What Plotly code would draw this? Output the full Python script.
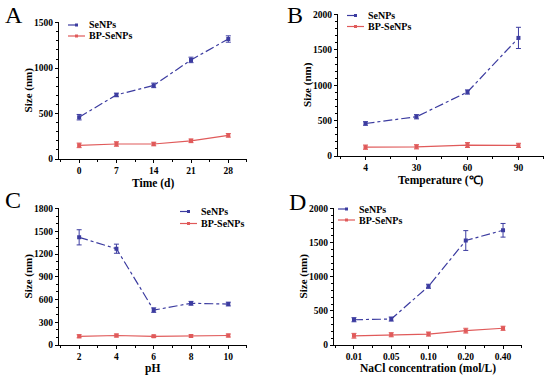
import plotly.graph_objects as go

# ---- data ----
time_labels = ["0", "7", "14", "21", "28"]
time_se = [460, 705, 810, 1090, 1320]
time_se_err = [30, 20, 25, 30, 35]
time_bp = [150, 165, 165, 200, 260]
time_bp_err = [25, 25, 20, 20, 20]

temp_labels = ["4", "30", "60", "90"]
temp_se = [460, 555, 905, 1670]
temp_se_err = [25, 30, 30, 150]
temp_bp = [125, 130, 155, 150]
temp_bp_err = [30, 30, 35, 30]

ph_labels = ["2", "4", "6", "8", "10"]
ph_se = [1420, 1270, 460, 550, 540]
ph_se_err = [100, 60, 30, 25, 25]
ph_bp = [115, 125, 115, 120, 125]
ph_bp_err = [20, 20, 15, 15, 20]

nacl_labels = ["0.01", "0.05", "0.10", "0.20", "0.40"]
nacl_se = [370, 380, 860, 1530, 1680]
nacl_se_err = [30, 30, 30, 145, 100]
nacl_bp = [135, 150, 160, 210, 245]
nacl_bp_err = [35, 30, 30, 35, 30]

series_names = ["SeNPs", "BP-SeNPs"]
y_title = "Size (nm)"

BLUE = "#3c3ca0"
RED = "#e05a5a"
FONT = "Liberation Serif"
W, H = 550, 375

panels = [
    dict(labels=time_labels, se=time_se, see=time_se_err, bp=time_bp, bpe=time_bp_err,
         xt="Time (d)", yr=[0, 1510], dt=500, xd=[0.1073, 0.449], yd=[0.576, 0.942],
         leg=(68, 25, 11), xty=183, ytx=28),
    dict(labels=temp_labels, se=temp_se, see=temp_se_err, bp=temp_bp, bpe=temp_bp_err,
         xt="Temperature (\u2103)", yr=[0, 2010], dt=500, xd=[0.6145, 0.989], yd=[0.584, 0.963],
         leg=(347, 15.5, 11), xty=180, ytx=308),
    dict(labels=ph_labels, se=ph_se, see=ph_se_err, bp=ph_bp, bpe=ph_bp_err,
         xt="pH", yr=[0, 1810], dt=300, xd=[0.1073, 0.449], yd=[0.08, 0.446],
         leg=(180, 211.5, 12), xty=368, ytx=28),
    dict(labels=nacl_labels, se=nacl_se, see=nacl_se_err, bp=nacl_bp, bpe=nacl_bp_err,
         xt="NaCl concentration (mol/L)", yr=[0, 2010], dt=500, xd=[0.607, 0.9485], yd=[0.08, 0.446],
         leg=(338, 209, 11), xty=368, ytx=303),
]

fig = go.Figure()
layout = dict(
    width=W, height=H, margin=dict(l=0, r=0, t=0, b=0, autoexpand=False),
    paper_bgcolor="white", plot_bgcolor="white", showlegend=False,
    font=dict(family=FONT, color="black"),
)
shapes, annots = [], []

for i, p in enumerate(panels):
    n = "" if i == 0 else str(i + 1)
    xa, ya = "x" + n, "y" + n
    fig.add_trace(go.Scatter(
        x=list(range(len(p["labels"]))), y=p["se"], xaxis=xa, yaxis=ya,
        mode="lines+markers", name=series_names[0],
        line=dict(color=BLUE, width=1.2, dash="dashdot"),
        marker=dict(color=BLUE, size=4, symbol="square"),
        error_y=dict(type="data", array=p["see"], color=BLUE, thickness=1, width=2.5),
    ))
    fig.add_trace(go.Scatter(
        x=list(range(len(p["labels"]))), y=p["bp"], xaxis=xa, yaxis=ya,
        mode="lines+markers", name=series_names[1],
        line=dict(color=RED, width=1.2),
        marker=dict(color=RED, size=4, symbol="square"),
        error_y=dict(type="data", array=p["bpe"], color=RED, thickness=1, width=2.5),
    ))
    layout["xaxis" + n] = dict(
        domain=p["xd"], anchor=ya, range=[-0.54, len(p["labels"]) - 0.5], automargin=False,
        tickmode="array", tickvals=list(range(len(p["labels"]))), ticktext=p["labels"],
        showgrid=False, zeroline=False, showline=True, linecolor="black", linewidth=1,
        ticks="outside", ticklen=3, tickwidth=1, tickcolor="black",
        minor=dict(ticks="outside", ticklen=2, tickcolor="black", tickmode="linear", dtick=0.5, tick0=0.5),
        tickfont=dict(family=FONT, size=9.5, weight="bold"),
    )
    layout["yaxis" + n] = dict(
        domain=p["yd"], anchor=xa, range=p["yr"], dtick=p["dt"], tick0=0, automargin=False,
        showgrid=False, zeroline=False, showline=True, linecolor="black", linewidth=1,
        ticks="outside", ticklen=3, tickwidth=1, tickcolor="black",
        minor=dict(ticks="outside", ticklen=2, tickcolor="black"),
        tickfont=dict(family=FONT, size=9.5, weight="bold"),
    )
    # axis titles as annotations (precise placement)
    xc = (p["xd"][0] + p["xd"][1]) / 2
    annots.append(dict(text=p["xt"], x=xc, y=1 - p["xty"] / H, xref="paper", yref="paper",
                       showarrow=False, xanchor="center", yanchor="middle",
                       font=dict(family=FONT, size=11.5, weight="bold", color="black")))
    yc = (p["yd"][0] + p["yd"][1]) / 2
    annots.append(dict(text=y_title, x=p["ytx"] / W, y=yc, xref="paper", yref="paper",
                       showarrow=False, xanchor="center", yanchor="middle", textangle=-90,
                       font=dict(family=FONT, size=11, weight="bold", color="black")))
    # compact legend (layout only)
    lx, ly, gap = p["leg"]
    for k, (name, col, dash) in enumerate([(series_names[0], BLUE, "dash"), (series_names[1], RED, "solid")]):
        yy = 1 - (ly + k * gap) / H
        shapes.append(dict(type="line", xref="paper", yref="paper",
                           x0=lx / W, x1=(lx + 17) / W, y0=yy, y1=yy,
                           line=dict(color=col, width=1.2, dash=dash)))
        shapes.append(dict(type="rect", xref="paper", yref="paper",
                           x0=(lx + 7) / W, x1=(lx + 10) / W, y0=yy - 1.5 / H, y1=yy + 1.5 / H,
                           line=dict(width=0), fillcolor=col))
        annots.append(dict(text=name, x=(lx + 19) / W, y=yy, xref="paper", yref="paper",
                           showarrow=False, xanchor="left", yanchor="middle",
                           font=dict(family=FONT, size=10, weight="bold", color="black")))

for txt, x, y in [("A", 14, 15), ("B", 295, 15), ("C", 13, 200), ("D", 297, 202)]:
    annots.append(dict(text=txt, x=x / W, y=1 - y / H, xref="paper", yref="paper",
                       showarrow=False, xanchor="center", yanchor="middle",
                       font=dict(family=FONT, size=24, color="black")))

layout["shapes"] = shapes
layout["annotations"] = annots
fig.update_layout(**layout)

fig.write_html("out.html", config={"displayModeBar": False},
               post_script="document.body.style.margin='0';")
